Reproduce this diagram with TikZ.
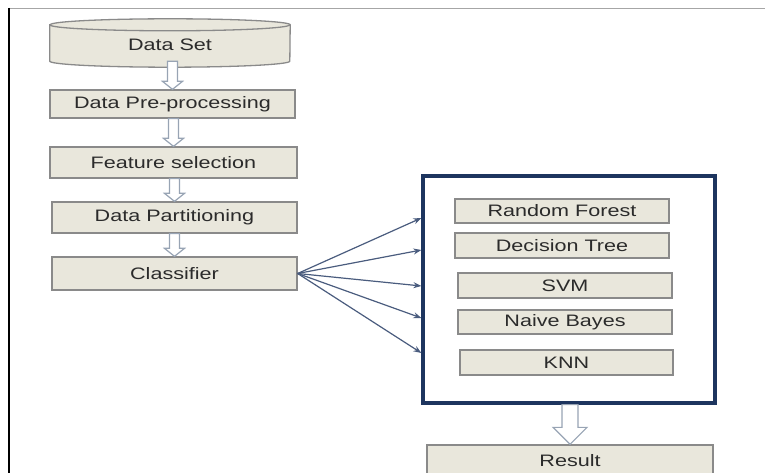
\documentclass[tikz,border=0pt]{standalone}
\usepackage{fontspec}
\setmainfont{Liberation Sans}[FakeStretch=1.3]
\usepackage{tikz}
\usetikzlibrary{arrows.meta,calc}

\definecolor{boxfill}{HTML}{E9E7DC}
\definecolor{boxline}{HTML}{8A8A8A}
\definecolor{textgray}{HTML}{2B2B2B}
\definecolor{navy}{HTML}{1D355F}
\definecolor{fanblue}{HTML}{4A5C7E}
\definecolor{hollowline}{HTML}{98A4B4}

\tikzset{
	stage/.style={draw=boxline, fill=boxfill, line width=1.3bp, text=textgray, inner sep=0pt},
	hollow/.style={draw=hollowline, fill=white, line width=1.2bp, line join=miter},
	fan/.style={draw=fanblue, line width=1.2bp, -{Stealth[length=8bp,width=6bp]}}
}

% shaft from #1 to #2: #3 half shaft, #4 half head, #5 head length
\newcommand{\hollowarrow}[5]{%
	\draw[hollow] ($(#2.north |- #1.south)+(-#3,0)$) -- ($(#2.north)+(-#3,#5)$)
	-- ($(#2.north)+(-#4,#5)$) -- (#2.north) -- ($(#2.north)+(#4,#5)$)
	-- ($(#2.north)+(#3,#5)$) -- ($(#2.north |- #1.south)+(#3,0)$) -- cycle;
}

\begin{document}
\begin{tikzpicture}[x=1bp, y=1bp, font=\fontsize{16.6bp}{20bp}\selectfont]

	\useasboundingbox (0,0) rectangle (765,-473);

	% frame
	\draw[gray!70, line width=0.8bp] (8,-8) -- (765,-8);
	\draw[black, line width=2bp] (9,-8) -- (9,-473);


	% data set (cylinder)
	\node[minimum width=240bp, minimum height=36bp, inner sep=0pt] (dataset) at (170,-43) {};
	\draw[stage] (dataset.north west) -- (dataset.south west)
	arc[start angle=180, end angle=360, x radius=120bp, y radius=6bp]
	-- (dataset.north east)
	arc[start angle=0, end angle=180, x radius=120bp, y radius=6bp] -- cycle;
	\draw[boxline, line width=1.3bp] (dataset.north west) arc[start angle=180, end angle=360, x radius=120bp, y radius=6bp];
	\node[text=textgray] (dslabel) at ($(dataset.center)+(0,-2)$) {Data Set};

	% pipeline
	\node[stage, minimum width=245bp, minimum height=28bp] (prep) at (172.5,-104) {Data Pre-processing};
	\node[stage, minimum width=247bp, minimum height=31bp] (feat) at (173.5,-162.5) {Feature selection};
	\node[stage, minimum width=245bp, minimum height=31bp] (part) at (174.5,-217.5) {Data Partitioning};
	\node[stage, minimum width=245bp, minimum height=33bp] (clf) at (174.5,-273.5) {Classifier};

	\hollowarrow{dataset}{prep}{5}{10}{8}
	\hollowarrow{prep}{feat}{5}{10}{8}
	\hollowarrow{feat}{part}{5}{10}{8}
	\hollowarrow{part}{clf}{5}{10}{8}


	% classifiers
	\node[draw=navy, line width=3.2bp, minimum width=292bp, minimum height=227bp] (models) at (569,-289.5) {};

	\node[stage, minimum width=214bp, minimum height=24bp] (rf) at (562,-211) {Random Forest};
	\node[stage, minimum width=214bp, minimum height=25bp] (dt) at (562,-245.5) {Decision Tree};
	\node[stage, minimum width=214bp, minimum height=25bp] (svm) at (565,-285.5) {SVM};
	\node[stage, minimum width=214bp, minimum height=24bp] (nb) at (565,-322) {Naive Bayes};
	\node[stage, minimum width=213bp, minimum height=25bp] (knn) at (566.5,-362.5) {KNN};

	\foreach \y in {218,250,286,318,353}
		\draw[fan] (clf.east) -- (models.west |- 0,-\y);


	% result
	\node[stage, minimum width=286bp, minimum height=32bp] (result) at (570,-461) {Result};
	\hollowarrow{models}{result}{8}{17}{17}

\end{tikzpicture}
\end{document}
